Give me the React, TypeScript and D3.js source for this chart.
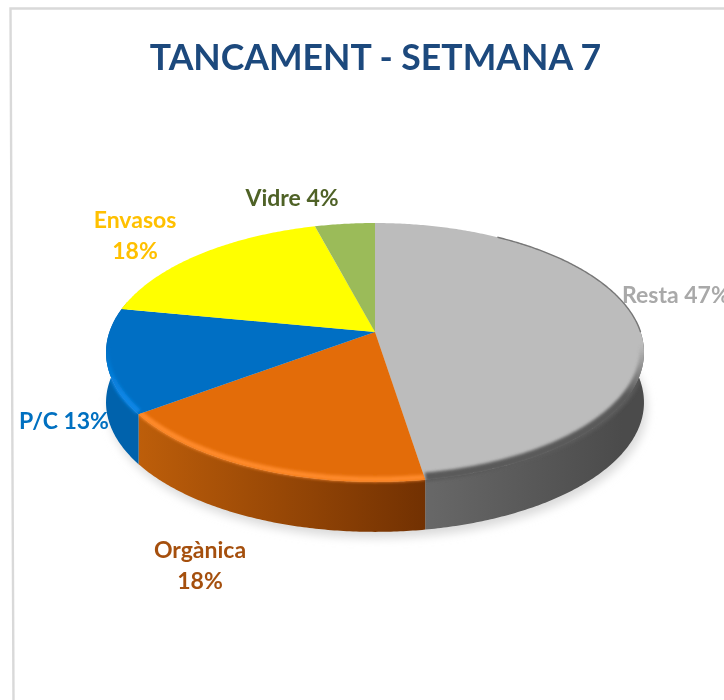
import React from "react";
import * as d3 from "d3";

const categories = ["Resta", "Orgànica", "P/C", "Envasos", "Vidre"];
const values = [47.45, 17.5, 13.05, 17.8, 4.2];
const topColors = ["#bcbcbc", "#e36c09", "#006fc4", "#ffff00", "#9bbb59"];
const rimColors = ["#5a5a5a", "#ff8a2a", "#0a86e6", "#ffff00", "#9bbb59"];
const rimWidths = [9, 5.5, 6, 0, 0];
const wallLeft = ["#686868", "#bd5e0a", "#0062ac", "#b8b800", "#6f8a3c"];
const wallRight = ["#4b4b4b", "#723102", "#0062ac", "#b8b800", "#6f8a3c"];
const labelColors = ["#a9a9a9", "#a5500f", "#0070c0", "#ffc000", "#4f6228"];
const labelLines = [["Resta 47%"], ["Orgànica", "18%"], ["P/C 13%"], ["Envasos", "18%"], ["Vidre 4%"]];
const labelPos = [[622, 303], [200, 558], [64, 429], [135, 228], [292, 206]];
const title = "TANCAMENT - SETMANA 7";

const W = 724, H = 700;
const cx = 375, cy = 332, A = 265.6, B = 126.2, K = 0.158, DEPTH = 50;

// perspective projection of a point on the unit disc (angle clockwise from 12 o'clock)
const project = (theta: number, r = 1): [number, number] => {
  const u = r * Math.sin(theta), v = -r * Math.cos(theta);
  const w = 1 - K * v;
  return [cx + (A * u) / w, cy + (B * v) / w];
};

const line = d3.line<[number, number]>().x((d) => d[0]).y((d) => d[1]);
const STEP = 0.01;
const arcPts = (a: number, b: number, r = 1): [number, number][] => {
  const pts = d3.range(a, b, STEP).map((t) => project(t, r));
  pts.push(project(b, r));
  return pts;
};

const arcs = d3.pie<number>().sort(null).value((d) => d)(values);
const front = (a: number, b: number): [number, number] | null => {
  const s = Math.max(a, Math.PI / 2 - 0.25), e = Math.min(b, (3 * Math.PI) / 2 + 0.25);
  return e > s ? [s, e] : null;
};
const fullCircle = arcPts(0, 2 * Math.PI);
const wallPath = (s: number, e: number) => {
  const upper = arcPts(s, e);
  const lower = upper.map(([x, y]) => [x, y + DEPTH] as [number, number]).reverse();
  return line([...upper, ...lower])! + "Z";
};

export default function App() {
  return (
    <svg width={W} height={H} style={{ position: "absolute", left: 0, top: 0, background: "#fff" }} fontFamily="Lato, 'Open Sans', sans-serif">
      <defs>
        <filter id="soft" x="-20%" y="-20%" width="140%" height="140%"><feGaussianBlur stdDeviation="5" /></filter>
        <filter id="rim" filterUnits="userSpaceOnUse" x={0} y={200} width={W} height={400}><feGaussianBlur stdDeviation="1.8" /></filter>
        <filter id="txt" x="-10%" y="-20%" width="120%" height="140%"><feGaussianBlur stdDeviation="0.4" /></filter>
        {arcs.map((a, i) => {
          const f = front(a.startAngle, a.endAngle);
          if (!f) return null;
          const xs = [project(f[0])[0], project(f[1])[0]];
          return (
            <linearGradient key={i} id={`wall${i}`} gradientUnits="userSpaceOnUse" x1={Math.min(...xs)} x2={Math.max(...xs)} y1={0} y2={0}>
              <stop offset="0" stopColor={wallLeft[i]} />
              <stop offset="1" stopColor={wallRight[i]} />
            </linearGradient>
          );
        })}
        {rimColors.map((c, i) => (
          <linearGradient key={i} id={`rimFade${i}`} gradientUnits="userSpaceOnUse" x1={0} x2={0} y1={345} y2={395}>
            <stop offset="0" stopColor={c} stopOpacity={0} />
            <stop offset="1" stopColor={c} stopOpacity={1} />
          </linearGradient>
        ))}
        {arcs.map((a, i) => {
          const f = front(a.startAngle, a.endAngle);
          if (!f) return null;
          return (
            <clipPath key={i} id={`slice${i}`}>
              <path d={line([[cx, cy], ...arcPts(a.startAngle, a.endAngle)])! + "Z"} />
              <path d={wallPath(f[0], f[1])} />
            </clipPath>
          );
        })}
      </defs>

      {/* frame */}
      <path d={`M${W} 8.5H10.5L13.5 ${H}`} fill="none" stroke="#d9d9d9" strokeWidth={2.4} />

      {/* soft shadow */}
      <path d={line(fullCircle.map(([x, y]) => [x + 3, y + DEPTH + 6] as [number, number]))! + "Z"} fill="#dadada" filter="url(#soft)" />

      {/* side walls */}
      {arcs.map((a, i) => {
        const f = front(a.startAngle, a.endAngle);
        if (!f) return null;
        return <path key={i} d={wallPath(f[0], f[1])} fill={`url(#wall${i})`} />;
      })}

      {/* top surface */}
      {arcs.map((a, i) => (
        <path key={i} d={line([[cx, cy], ...arcPts(a.startAngle, a.endAngle)])! + "Z"} fill={topColors[i]} />
      ))}

      {/* thin dark line on the upper right of the grey slice */}
      <path d={line(arcPts(0.55, Math.PI / 2))!} fill="none" stroke="#777777" strokeWidth={1.4} />

      {/* bevel along the front rim, straddling the edge */}
      {arcs.map((a, i) => {
        const f = front(a.startAngle, a.endAngle);
        if (!f || !rimWidths[i]) return null;
        const pts = arcPts(f[0], f[1]).map(([x, y]) => [x, y - 2.5] as [number, number]);
        return (
          <g key={i} clipPath={`url(#slice${i})`}>
            <path d={line(pts)!} fill="none" stroke={`url(#rimFade${i})`} strokeWidth={rimWidths[i]} filter="url(#rim)" />
          </g>
        );
      })}

      {/* title */}
      <text x={375.5} y={70} textAnchor="middle" fontSize={35.6} fontWeight={700} fill="#1f497d" filter="url(#txt)">{title}</text>

      {/* labels */}
      {categories.map((c, i) => (
        <text key={c} fontSize={23} fontWeight={700} fill={labelColors[i]} filter="url(#txt)"
          textAnchor={i === 0 ? "start" : "middle"} x={labelPos[i][0]} y={labelPos[i][1]}>
          {labelLines[i].map((t, j) => (
            <tspan key={j} x={labelPos[i][0]} dy={j === 0 ? 0 : 31}>{t}</tspan>
          ))}
        </text>
      ))}
    </svg>
  );
}
